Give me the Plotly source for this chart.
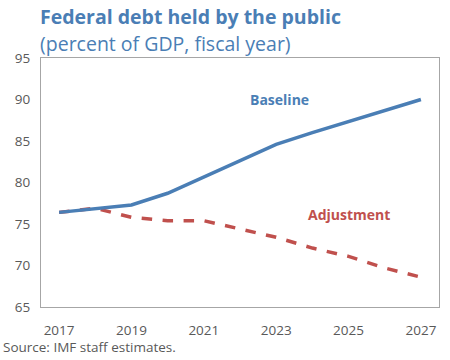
import plotly.graph_objects as go

years = list(range(2017, 2028))
baseline = [76.4, 76.9, 77.3, 78.7, 80.7, 82.6, 84.6, 86.0, 87.3, 88.7, 90.0]
adjustment = [76.4, 76.9, 75.8, 75.4, 75.4, 74.4, 73.4, 72.1, 71.1, 69.7, 68.6]
xticks = [2017, 2019, 2021, 2023, 2025, 2027]
yticks = [65, 70, 75, 80, 85, 90, 95]

blue = "#4a7eb5"
red = "#c0504d"
font = "Open Sans"

L, T, W, H = 41, 58, 398, 249
FW, FH = 450, 360

fig = go.Figure()
fig.add_trace(go.Scatter(x=years, y=adjustment, mode="lines",
                         line=dict(color=red, width=3.5, dash="dash"), showlegend=False))
fig.add_trace(go.Scatter(x=years, y=baseline, mode="lines",
                         line=dict(color=blue, width=3.5), showlegend=False))

fig.update_layout(
    width=FW, height=FH,
    margin=dict(l=L, r=FW - L - W, t=T, b=FH - T - H, autoexpand=False),
    paper_bgcolor="white", plot_bgcolor="white",
    font=dict(family=font, color="#595959", size=13),
    xaxis=dict(range=[2016.5, 2027.5], tickvals=xticks, showgrid=False, zeroline=False,
               showline=True, mirror=True, linecolor="#a6a6a6", linewidth=1,
               ticks="outside", ticklen=11, tickcolor="rgba(0,0,0,0)", automargin=False,
               tickfont=dict(size=13.5, color="#595959")),
    yaxis=dict(range=[65, 95], tickvals=yticks, showgrid=False, zeroline=False,
               showline=True, mirror=True, linecolor="#a6a6a6", linewidth=1,
               ticks="outside", ticklen=7, tickcolor="rgba(0,0,0,0)", automargin=False,
               tickfont=dict(size=13.5, color="#595959")),
    annotations=[
        dict(text="<b>Federal debt held by the public</b>", xref="paper", yref="paper",
             x=(38 - L) / W, y=1 + (T - 16) / H, xanchor="left", yanchor="middle",
             showarrow=False, font=dict(size=19.5, color=blue, family=font)),
        dict(text="(percent of GDP, fiscal year)", xref="paper", yref="paper",
             x=(38 - L) / W, y=1 + (T - 44) / H, xanchor="left", yanchor="middle",
             showarrow=False, font=dict(size=19.5, color=blue, family=font)),
        dict(text="<b>Baseline</b>", x=2023.1, y=90.0, xref="x", yref="y",
             showarrow=False, font=dict(size=14, color=blue, family=font)),
        dict(text="<b>Adjustment</b>", x=2025.0, y=76.1, xref="x", yref="y",
             showarrow=False, font=dict(size=14, color=red, family=font)),
        dict(text="Source: IMF staff estimates.", xref="paper", yref="paper",
             x=-(L - 1) / W, y=-(347 - (T + H)) / H, xanchor="left", yanchor="middle",
             showarrow=False, font=dict(size=13.5, color="#595959", family=font)),
    ],
)

fig.write_html("out.html", config={"displayModeBar": False},
               post_script="document.body.style.margin='0';document.body.style.overflow='hidden';")
